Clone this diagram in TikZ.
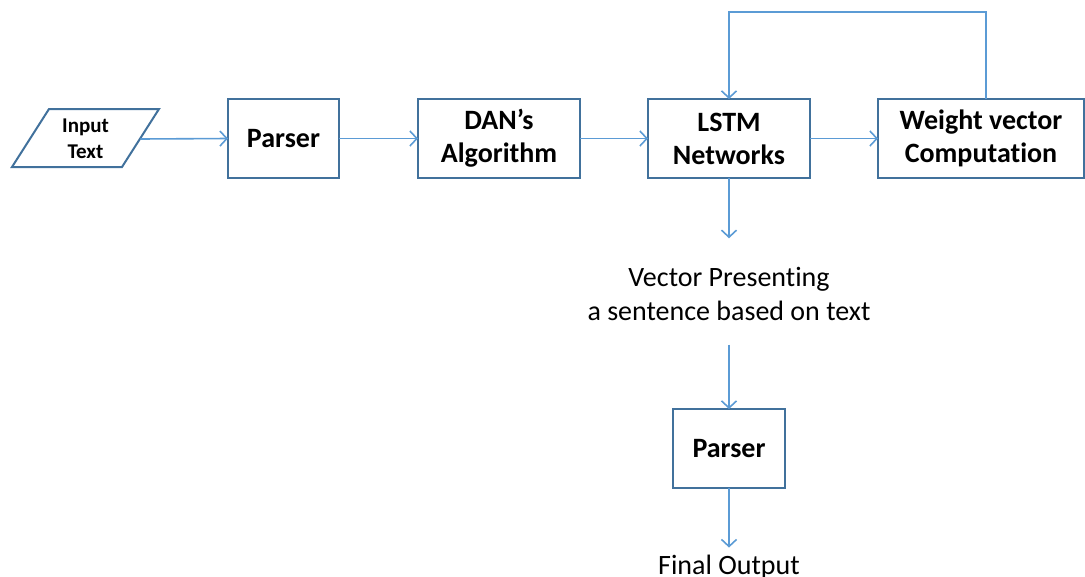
\documentclass[tikz,border=0pt]{standalone}
\usepackage{fontspec}
\setmainfont[Ligatures=NoCommon]{Carlito}
\usetikzlibrary{arrows.meta}
\definecolor{boxline}{RGB}{65,113,156}
\definecolor{arrline}{RGB}{91,155,213}
\begin{document}
\begin{tikzpicture}[x=1pt,y=-1pt,
 stepbox/.style={draw=boxline,line width=2pt,fill=white,minimum width=#1,minimum height=79pt,inner sep=0pt,outer sep=0pt,align=center,font=\fontsize{28}{33}\selectfont\bfseries},
 conn/.style={draw=arrline,line width=1.6pt,-{Straight Barb[length=7pt,width=15pt,line width=1.6pt]}},
 txt/.style={font=\fontsize{28}{34}\selectfont,align=center,inner sep=0pt,outer sep=0pt}]
\useasboundingbox (0,0) rectangle (1085,576);
\draw[boxline,line width=2pt] (12,167)--(49,109)--(159,109)--(122,167)--cycle;
\node[font=\fontsize{21}{26}\selectfont\bfseries,align=center] (input) at (85.5,139) {Input\\Text};
\coordinate (inR) at (140.5,139);
\node[stepbox=111pt] (parser1) at (283.5,138.5) {Parser};
\node[stepbox=162pt] (dan) at (499,138.5) {DAN’s\\Algorithm};
\node[stepbox=162pt] (lstm) at (729,138.5) {LSTM\\Networks};
\node[stepbox=206pt] (weight) at (981,138.5) {Weight vector\\Computation};
\node[txt] (vec) at (729,294) {Vector Presenting\\a sentence based on text};
\node[stepbox=112pt] (parser2) at (729,448.5) {Parser};
\node[txt,anchor=base] (final) at (729,574) {Final Output};
\draw[conn] (inR) -- (parser1.west);
\draw[conn] (parser1.east) -- (dan.west);
\draw[conn] (dan.east) -- (lstm.west);
\draw[conn] (lstm.east) -- (weight.west);
\draw[conn] ([xshift=5pt]weight.north) -- ++(0,-87) -| (lstm.north);
\draw[conn,shorten >=29pt] (lstm.south) -- (vec.north);
\draw[conn,shorten <=24pt] (vec.south) -- (parser2.north);
\draw[conn,shorten >=7pt] (parser2.south) -- (final.north);
\end{tikzpicture}
\end{document}
